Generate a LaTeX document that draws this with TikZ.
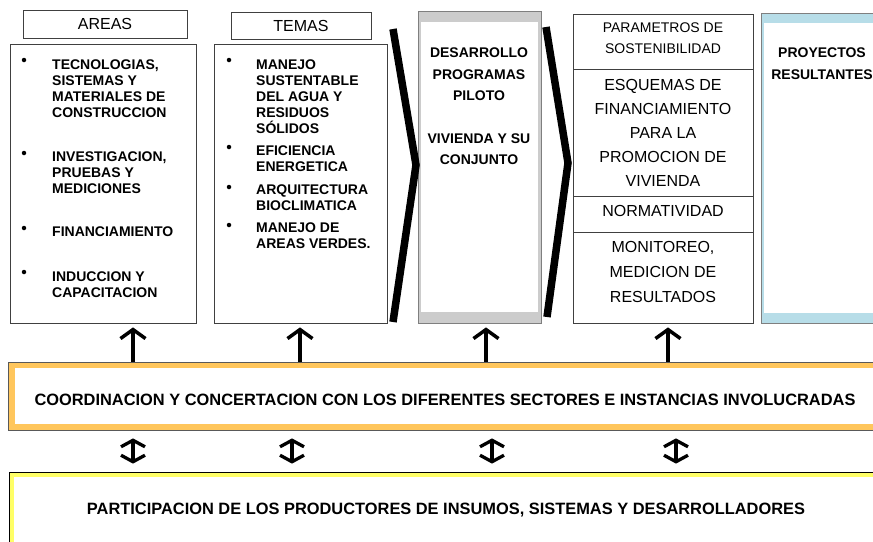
\documentclass[tikz,border=0pt]{standalone}
\usepackage{fontspec}
\setmainfont{Liberation Sans}
\usetikzlibrary{arrows.meta}
\definecolor{bandgray}{HTML}{CCCCCC}
\definecolor{bandblue}{HTML}{B7DDE8}
\definecolor{bandorange}{HTML}{FFC65C}
\definecolor{bandyellow}{HTML}{FFFF66}
\definecolor{linegray}{HTML}{7F7F7F}
\begin{document}
\begin{tikzpicture}[x=1pt, y=-1pt, line join=miter,
	box/.style 2 args={draw=black!75, line width=.8pt, minimum width=#1, minimum height=#2, inner sep=0},
	band/.style n args={3}{fill=#1, path picture={\fill[white] ([shift={(#2,-#3)}]path picture bounding box.north west) rectangle ([shift={(-#2,#3)}]path picture bounding box.south east);}},
	hdr/.style={font=\fontsize{16}{19}\selectfont},
	itm/.style={anchor=north west, align=left, inner sep=0, font=\bfseries\fontsize{14}{16}\selectfont},
	dot/.style={circle, fill=black, inner sep=0, minimum size=4.5pt},
	txtb/.style={anchor=north, align=center, inner sep=0, font=\bfseries\fontsize{14}{21.3}\selectfont},
	txtp/.style={anchor=north, align=center, inner sep=0, font=\fontsize{14}{21}\selectfont},
	txtq/.style={anchor=north, align=center, inner sep=0, font=\fontsize{16}{24}\selectfont},
	wide/.style={inner sep=0, font=\bfseries\fontsize{16.4}{19}\selectfont},
	chev/.style={line width=7.5pt, line cap=butt},
	up/.style={line width=3.5pt, -{Straight Barb[length=9pt,width=25pt]}},
	dbl/.style={line width=3.3pt, {Straight Barb[length=6.5pt,width=24pt]}-{Straight Barb[length=6.5pt,width=24pt]}}]
	\path[use as bounding box] (0,0) rectangle (873,541);
	\clip (0,0) rectangle (873,541);
	\node[box={164}{28}, hdr] (areashdr) at (105,24) {AREAS};
	\node[box={140}{27}, hdr] (temashdr) at (301,25.5) {TEMAS};
	\node[box={186}{279}] (areas) at (103,183.5) {};
	\node[box={173}{279}] (temas) at (300.5,183.5) {};
	\node[box={123}{312}, draw=linegray, band={bandgray}{3pt}{11pt}] (piloto) at (479.5,167) {};
	\node[box={180}{55}] (param) at (663,41.5) {};
	\node[box={180}{127}] (esquemas) at (663,132.5) {};
	\node[box={180}{36}] (norma) at (663,214) {};
	\node[box={180}{91}] (monit) at (663,277.5) {};
	\node[box={120}{310}, draw=linegray, band={bandblue}{3pt}{10pt}] (proy) at (821,168) {};
	\node[box={874}{68}, draw=black!65, band={bandorange}{7pt}{6pt}] (coord) at (445,396) {};
	\node[box={873}{76}, draw=black, band={bandyellow}{5pt}{5pt}] (part) at (445.5,510) {};
	\draw[chev] (393,29)--(416,165)--(393,322);
	\draw[chev] (546,27)--(568,163)--(547,317);
	\foreach \x/\y [count=\i] in {24/60,24/153,24/228,24/272,229/60,229/147,229/187,229/225}\node[dot] (dot\i) at (\x,\y) {};
	\node[itm] (a1) at (52,60) {TECNOLOGIAS,\\SISTEMAS Y\\MATERIALES DE\\CONSTRUCCION};
	\node[itm] (a2) at (52,152) {INVESTIGACION,\\PRUEBAS Y\\MEDICIONES};
	\node[itm] (a3) at (52,227) {FINANCIAMIENTO};
	\node[itm] (a4) at (52,272) {INDUCCION Y\\CAPACITACION};
	\node[itm] (t1) at (256,60) {MANEJO\\SUSTENTABLE\\DEL AGUA Y\\RESIDUOS\\SÓLIDOS};
	\node[itm] (t2) at (256,146) {EFICIENCIA\\ENERGETICA};
	\node[itm] (t3) at (256,185) {ARQUITECTURA\\BIOCLIMATICA};
	\node[itm] (t4) at (256,223) {MANEJO DE\\AREAS VERDES.};
	\node[txtb] (pilototxt) at (479,48) {DESARROLLO\\PROGRAMAS\\PILOTO\\[21.3pt]VIVIENDA Y SU\\CONJUNTO};
	\node[txtp] (paramtxt) at (663,23) {PARAMETROS DE\\SOSTENIBILIDAD};
	\node[txtq] (esqtxt) at (663,79.5) {ESQUEMAS DE\\FINANCIAMIENTO\\PARA LA\\PROMOCION DE\\VIVIENDA};
	\node[txtq] (normtxt) at (663,205.5) {NORMATIVIDAD};
	\node[txtq, font=\fontsize{16}{25}\selectfont] (monittxt) at (663,241.5) {MONITOREO,\\MEDICION DE\\RESULTADOS};
	\node[txtb] (proytxt) at (822,48) {PROYECTOS\\RESULTANTES};
	\node[wide] (coordtxt) at (445,400) {COORDINACION Y CONCERTACION CON LOS DIFERENTES SECTORES E INSTANCIAS INVOLUCRADAS};
	\node[wide] (parttxt) at (446,510) {PARTICIPACION DE LOS PRODUCTORES DE INSUMOS, SISTEMAS Y DESARROLLADORES};
	\foreach \x/\n in {133/areas,300/temas,486/piloto,668/monit}\draw[up, shorten >=4pt] (coord.north -| \x,0) -- (\x,0 |- \n.south);
	\foreach \x in {133,292,492,676}\draw[dbl, shorten <=8pt, shorten >=8pt] (coord.south -| \x,0) -- (part.north -| \x,0);
\end{tikzpicture}
\end{document}
